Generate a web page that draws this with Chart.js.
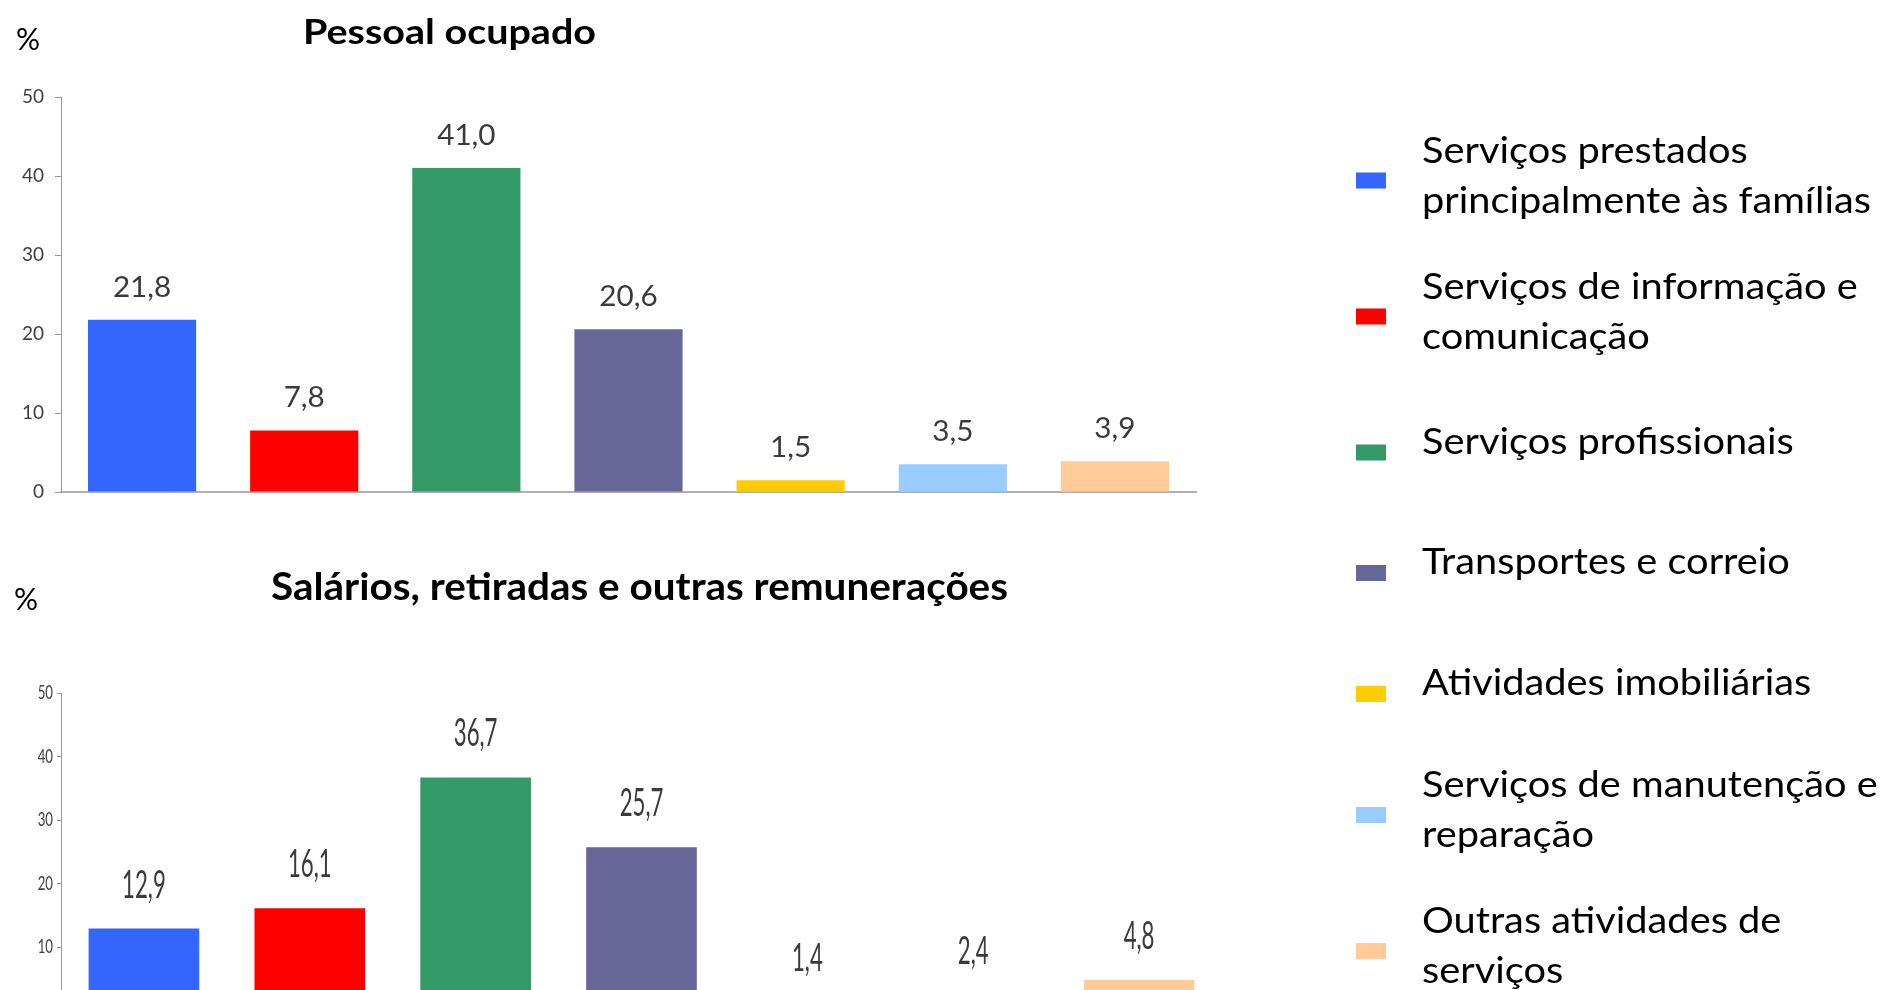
<!DOCTYPE html>
<html lang="pt-BR">
<head>
<meta charset="utf-8">
<title>Pessoal ocupado e salários por segmento</title>
<script src="https://cdn.jsdelivr.net/npm/chart.js@4.4.1/dist/chart.umd.min.js"></script>
<style>
html,body{margin:0;padding:0;background:#fff;width:1881px;height:990px;overflow:hidden}
#wrap{position:relative;width:1881px;height:990px;overflow:hidden}
#top-chart{position:absolute;left:0;top:0}
#bottom-chart{position:absolute;left:0;top:560px}
</style>
</head>
<body>
<div id="wrap">
  <canvas id="top-chart" width="1881" height="990"></canvas>
  <canvas id="bottom-chart" width="1240" height="470"></canvas>
</div>
<script>
// data
const categories = [
    'Serviços prestados principalmente às famílias',
    'Serviços de informação e comunicação',
    'Serviços profissionais',
    'Transportes e correio',
    'Atividades imobiliárias',
    'Serviços de manutenção e reparação',
    'Outras atividades de serviços'
]
const legendLines = [
    ['Serviços prestados', 'principalmente às famílias'],
    ['Serviços de informação e', 'comunicação'],
    ['Serviços profissionais'],
    ['Transportes e correio'],
    ['Atividades imobiliárias'],
    ['Serviços de manutenção e', 'reparação'],
    ['Outras atividades de', 'serviços']
]
const pessoal = [21.8, 7.8, 41.0, 20.6, 1.5, 3.5, 3.9]
const salarios = [12.9, 16.1, 36.7, 25.7, 1.4, 2.4, 4.8]
const yTicks = [0, 10, 20, 30, 40, 50]
const titleTop = 'Pessoal ocupado'
const titleBottom = 'Salários, retiradas e outras remunerações'
const unit = '%'

const colors = ['#3366FF', '#FF0000', '#339966', '#666699', '#FFCC00', '#99CCFF', '#FFCC99']

// layout (canvas px)
const legendCenters = [180.5, 316.5, 452.5, 573, 694, 815, 951]
const labelColor = '#3a3a3a'

function fmt(v){
    return v.toFixed(1).replace('.', ',')
}

function drawText(c, text, x, y, font, color, opts={}){
    c.save()
    c.font = font
    c.fillStyle = color
    c.textBaseline = opts.baseline || 'alphabetic'
    c.textAlign = opts.align || 'left'
    let sx = opts.scaleX || 1
    if (opts.fit) sx = opts.fit / c.measureText(text).width
    c.translate(x, y)
    c.scale(sx, 1)
    c.fillText(text, 0, 0)
    c.restore()
}

function barLabels(chart, font, gap, sx){
    const meta = chart.getDatasetMeta(0)
    const vals = chart.data.datasets[0].data
    meta.data.forEach((bar, i) => {
        drawText(chart.ctx, fmt(vals[i]), bar.x, bar.y - gap, font, labelColor, {align:'center', scaleX:sx})
    })
}

const topDecor = {
    id: 'topDecor',
    afterDatasetsDraw(chart){
        barLabels(chart, '28px Lato', 23, 1.06)
    },
    afterDraw(chart){
        const c = chart.ctx
        drawText(c, unit, 16, 50, '30px Lato', '#000')
        drawText(c, titleTop, 303, 44, 'bold 34px Lato', '#000', {fit:293})

        // legend on the right
        const lf = '36px Lato'
        c.save()
        c.font = lf
        const lsx = 449 / c.measureText(legendLines[0][1]).width
        c.restore()
        legendLines.forEach((lines, i) => {
            const cy = legendCenters[i]
            c.fillStyle = colors[i]
            c.fillRect(1356, cy - 8, 30, 16)
            const first = lines.length > 1 ? cy - 18 : cy + 1
            lines.forEach((t, k) => {
                drawText(c, t, 1422, first + k * 50, lf, '#000', {scaleX:lsx})
            })
        })
    }
}

const bottomDecor = {
    id: 'bottomDecor',
    afterDatasetsDraw(chart){
        barLabels(chart, '39px Lato', 31, 0.57)
    },
    afterDraw(chart){
        const c = chart.ctx
        const ys = chart.scales.y
        yTicks.forEach(v => {
            drawText(c, String(v), 53, ys.getPixelForValue(v), '20px Lato', '#404040', {align:'right', baseline:'middle', scaleX:0.66})
        })
        drawText(c, unit, 14, 50, '30px Lato', '#000')
        drawText(c, titleBottom, 271, 40, 'bold 38px Lato', '#000', {fit:737})
    }
}

function makeConfig(values, pad, tickLen, showTicks, plugin){
    return {
        type: 'bar',
        data: {
            labels: categories,
            datasets: [{
                data: values,
                backgroundColor: colors,
                borderWidth: 0,
                categoryPercentage: 1,
                barPercentage: 0.667
            }]
        },
        options: {
            responsive: false,
            animation: false,
            layout: {padding: pad},
            plugins: {
                legend: {display: false},
                title: {display: false},
                tooltip: {enabled: false}
            },
            scales: {
                x: {
                    ticks: {display: false},
                    grid: {display: false},
                    border: {display: true, color: '#b0b0b0', width: 2},
                    afterFit: s => { s.height = 0 }
                },
                y: {
                    min: 0,
                    max: 50,
                    ticks: {
                        display: showTicks,
                        stepSize: 10,
                        padding: 11,
                        color: '#404040',
                        font: {family: 'Lato', size: 19}
                    },
                    grid: {drawOnChartArea: false, drawTicks: true, tickLength: tickLen, color: '#999'},
                    border: {display: true, color: '#999', width: 1},
                    afterFit: s => { s.width = 61 }
                }
            }
        },
        plugins: [plugin]
    }
}

new Chart(document.getElementById('top-chart'),
    makeConfig(pessoal, {top: 97, bottom: 498, left: 0, right: 685}, 6, true, topDecor))

new Chart(document.getElementById('bottom-chart'),
    makeConfig(salarios, {top: 133, bottom: 19.5, left: 0, right: 18}, 4, false, bottomDecor))
</script>
</body>
</html>
